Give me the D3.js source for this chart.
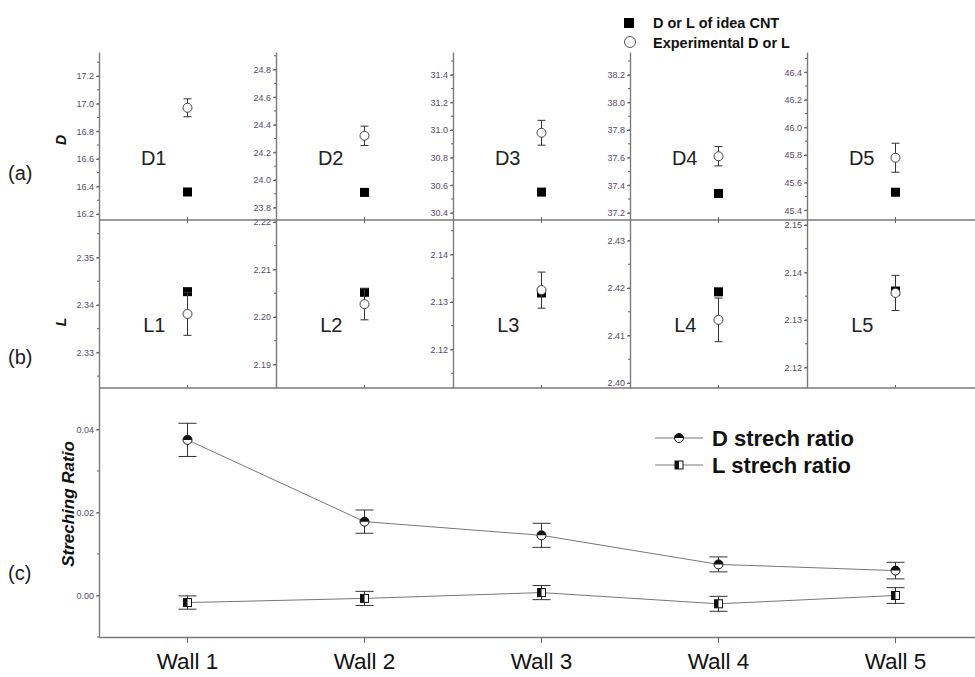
<!DOCTYPE html>
<html><head><meta charset="utf-8">
<script src="https://cdn.jsdelivr.net/npm/d3@7"></script>
<style>body{margin:0;background:#fff}svg{display:block}</style>
</head><body>
<svg id="chart" width="975" height="677"></svg>
<script>
// ---------------- data ----------------
const walls = ["Wall 1","Wall 2","Wall 3","Wall 4","Wall 5"];
const dLabels = ["D1","D2","D3","D4","D5"];
const lLabels = ["L1","L2","L3","L4","L5"];
// (a) diameter D
const dIdeal   = [16.36, 23.91, 30.55, 37.34, 45.53];
const dExp     = [16.97, 24.32, 30.98, 37.61, 45.78];
const dExpErr  = [0.065, 0.07, 0.09, 0.07, 0.105];
const dDomains = [[16.157,17.374],[23.710,24.927],[30.348,31.565],[37.148,38.365],[45.329,46.546]];
const dTicks   = [[16.2,16.4,16.6,16.8,17.0,17.2],[23.8,24.0,24.2,24.4,24.6,24.8],[30.4,30.6,30.8,31.0,31.2,31.4],[37.2,37.4,37.6,37.8,38.0,38.2],[45.4,45.6,45.8,46.0,46.2,46.4]];
// (b) length L
const lIdeal   = [2.3428, 2.2052, 2.1319, 2.4192, 2.1361];
const lExp     = [2.3381, 2.2027, 2.1325, 2.4133, 2.1357];
const lExpErr  = [0.0045, 0.0033, 0.0038, 0.0046, 0.0037];
const lDomains = [[2.3225,2.3579],[2.18505,2.22042],[2.11189,2.14726],[2.39895,2.43432],[2.11568,2.15105]];
const lTicks   = [[2.33,2.34,2.35],[2.19,2.20,2.21,2.22],[2.12,2.13,2.14],[2.40,2.41,2.42,2.43],[2.12,2.13,2.14,2.15]];
// (c) stretching ratio
const dRatio    = [0.0375, 0.0178, 0.0145, 0.0075, 0.0060];
const dRatioErr = [0.0040, 0.0028, 0.0029, 0.0018, 0.0020];
const lRatio    = [-0.0017, -0.0007, 0.0007, -0.0020, 0.0000];
const lRatioErr = [0.0016, 0.0017, 0.0017, 0.0018, 0.0019];
const ratioDomain = [-0.01, 0.05];
const ratioTicks  = [0.00, 0.02, 0.04];
const legendTop = ["D or L of idea CNT","Experimental D or L"];
const legendC   = ["D strech ratio","L strech ratio"];
const panelTags = ["(a)","(b)","(c)"];

// ---------------- layout ----------------
const W = 975, X0 = 99, STEP = 177;
const yA = [220, 52], yB = [388, 220], yCr = [637, 388];
const FONT = "'Liberation Sans', Arial, sans-serif";
const svg = d3.select("#chart").style("font-family", FONT);
svg.append("rect").attr("width", W).attr("height", 677).attr("fill", "#fff");

const x = d3.scaleBand().domain(walls).range([X0, X0 + walls.length * STEP]).padding(0);
const cx = w => x(w) + x.bandwidth() / 2;

function styleAxis(g, fs) {
  g.select(".domain").attr("stroke", "#7a7a7a").attr("stroke-width", 1.4);
  g.selectAll(".tick line").attr("stroke", "#666");
  g.selectAll(".tick text").attr("fill", "#5a4a6a").attr("font-size", fs).attr("font-family", FONT);
}

function minorTicks(g, scale, step, len) {
  const [a, b] = scale.domain();
  const vals = d3.range(Math.ceil(a / step) * step, b, step);
  g.selectAll(null).data(vals).join("line")
    .attr("x1", -len).attr("x2", 0)
    .attr("y1", d => scale(d)).attr("y2", d => scale(d))
    .attr("stroke", "#666");
}

const plot = svg.append("g");

walls.forEach((w, i) => {
  const ax = X0 + i * STEP;
  const px = cx(w);
  // ----- panel (a)
  const yd = d3.scaleLinear().domain(dDomains[i]).range(yA);
  const ga = plot.append("g").attr("transform", `translate(${ax},0)`);
  ga.call(d3.axisLeft(yd).tickValues(dTicks[i]).tickSize(3).tickSizeOuter(0).tickPadding(2).tickFormat(d3.format(".1f")));
  styleAxis(ga, 9);
  minorTicks(ga, yd, 0.1, 2);
  // ----- panel (b)
  const yl = d3.scaleLinear().domain(lDomains[i]).range(yB);
  const gb = plot.append("g").attr("transform", `translate(${ax},0)`);
  gb.call(d3.axisLeft(yl).tickValues(lTicks[i]).tickSize(3).tickSizeOuter(0).tickPadding(2).tickFormat(d3.format(".2f")));
  styleAxis(gb, 9);
  minorTicks(gb, yl, 0.005, 2);

  // x ticks on the separator lines
  [[220, -3], [220, 3], [388, -3]].forEach(([yy, dd]) => {
    plot.append("line").attr("x1", px).attr("x2", px).attr("y1", yy).attr("y2", yy + dd).attr("stroke", "#666");
  });

  // markers (a)
  plot.append("rect").attr("x", px - 4.5).attr("y", yd(dIdeal[i]) - 4.5).attr("width", 9).attr("height", 9).attr("fill", "#000");
  const ea = plot.append("g").attr("stroke", "#333").attr("stroke-width", 1);
  ea.append("line").attr("x1", px).attr("x2", px).attr("y1", yd(dExp[i] - dExpErr[i])).attr("y2", yd(dExp[i] + dExpErr[i]));
  [dExp[i] - dExpErr[i], dExp[i] + dExpErr[i]].forEach(v =>
    ea.append("line").attr("x1", px - 4).attr("x2", px + 4).attr("y1", yd(v)).attr("y2", yd(v)));
  plot.append("circle").attr("cx", px).attr("cy", yd(dExp[i])).attr("r", 4.5).attr("fill", "#fff").attr("stroke", "#444");

  // markers (b)
  plot.append("rect").attr("x", px - 4.5).attr("y", yl(lIdeal[i]) - 4.5).attr("width", 9).attr("height", 9).attr("fill", "#000");
  const eb = plot.append("g").attr("stroke", "#333").attr("stroke-width", 1);
  eb.append("line").attr("x1", px).attr("x2", px).attr("y1", yl(lExp[i] - lExpErr[i])).attr("y2", yl(lExp[i] + lExpErr[i]));
  [lExp[i] - lExpErr[i], lExp[i] + lExpErr[i]].forEach(v =>
    eb.append("line").attr("x1", px - 4).attr("x2", px + 4).attr("y1", yl(v)).attr("y2", yl(v)));
  plot.append("circle").attr("cx", px).attr("cy", yl(lExp[i])).attr("r", 4.5).attr("fill", "#fff").attr("stroke", "#444");

  // panel labels
  plot.append("text").attr("x", px - 21).attr("y", 165).attr("text-anchor", "end")
    .attr("font-size", 20).attr("fill", "#222").text(dLabels[i]);
  plot.append("text").attr("x", px - 22).attr("y", 332).attr("text-anchor", "end")
    .attr("font-size", 20).attr("fill", "#222").text(lLabels[i]);
});

// separator lines
[220, 388].forEach(yy => plot.append("line").attr("x1", X0).attr("x2", W).attr("y1", yy).attr("y2", yy)
  .attr("stroke", "#7a7a7a").attr("stroke-width", 1.4));

// ---------------- panel (c) ----------------
const yc = d3.scaleLinear().domain(ratioDomain).range(yCr);
const gcy = plot.append("g").attr("transform", `translate(${X0},0)`);
gcy.call(d3.axisLeft(yc).tickValues(ratioTicks).tickSize(3).tickSizeOuter(0).tickPadding(2).tickFormat(d3.format(".2f")));
styleAxis(gcy, 9);
minorTicks(gcy, yc, 0.01, 2);
const gcx = plot.append("g").attr("transform", `translate(0,${yCr[0]})`);
gcx.call(d3.axisBottom(x).tickSize(6).tickSizeOuter(0).tickPadding(10));
styleAxis(gcx, 22.5);
gcx.selectAll(".tick text").attr("fill", "#111");

const lineGen = d3.line().x((d, i) => cx(walls[i])).y(d => yc(d));
plot.append("path").datum(dRatio).attr("d", lineGen).attr("fill", "none").attr("stroke", "#777").attr("stroke-width", 1);
plot.append("path").datum(lRatio).attr("d", lineGen).attr("fill", "none").attr("stroke", "#777").attr("stroke-width", 1);

function errBars(vals, errs) {
  const g = plot.append("g").attr("stroke", "#333").attr("stroke-width", 1);
  vals.forEach((v, i) => {
    const px = cx(walls[i]);
    g.append("line").attr("x1", px).attr("x2", px).attr("y1", yc(v - errs[i])).attr("y2", yc(v + errs[i]));
    [v - errs[i], v + errs[i]].forEach(e =>
      g.append("line").attr("x1", px - 9).attr("x2", px + 9).attr("y1", yc(e)).attr("y2", yc(e)));
  });
}
errBars(dRatio, dRatioErr);
errBars(lRatio, lRatioErr);

function halfCircle(g, px, py, r) {
  g.append("circle").attr("cx", px).attr("cy", py).attr("r", r).attr("fill", "#fff").attr("stroke", "#111").attr("stroke-width", 1);
  g.append("path").attr("d", `M${px - r},${py}A${r},${r} 0 0 1 ${px + r},${py}Z`).attr("fill", "#111");
}
function halfSquare(g, px, py, s) {
  g.append("rect").attr("x", px - s / 2).attr("y", py - s / 2).attr("width", s).attr("height", s).attr("fill", "#fff").attr("stroke", "#111");
  g.append("rect").attr("x", px - s / 2).attr("y", py - s / 2).attr("width", s / 2).attr("height", s).attr("fill", "#111");
}
dRatio.forEach((v, i) => halfCircle(plot, cx(walls[i]), yc(v), 4.5));
lRatio.forEach((v, i) => halfSquare(plot, cx(walls[i]), yc(v), 8));

// legend (c)
legendC.forEach((t, k) => {
  const ly = 438 + k * 27;
  plot.append("line").attr("x1", 655).attr("x2", 703).attr("y1", ly).attr("y2", ly).attr("stroke", "#777");
  if (k === 0) halfCircle(plot, 679, ly, 4.5); else halfSquare(plot, 679, ly, 8);
  plot.append("text").attr("x", 712).attr("y", ly + 8).attr("font-size", 22).attr("font-weight", "bold")
    .attr("fill", "#111").text(t);
});

// top legend
plot.append("rect").attr("x", 624).attr("y", 18).attr("width", 10).attr("height", 10).attr("fill", "#000");
plot.append("circle").attr("cx", 630).attr("cy", 42).attr("r", 5.5).attr("fill", "#fff").attr("stroke", "#555");
legendTop.forEach((t, k) => plot.append("text").attr("x", 653).attr("y", 28 + k * 19.5)
  .attr("font-size", 14.5).attr("font-weight", "bold").attr("fill", "#111").text(t));

// axis titles
[["D", 66, 140, 14], ["L", 66, 322, 14], ["Streching Ratio", 74, 504, 17]].forEach(([t, tx, ty, fs]) =>
  plot.append("text").attr("transform", `translate(${tx},${ty}) rotate(-90)`).attr("text-anchor", "middle")
    .attr("font-size", fs).attr("font-weight", "bold").attr("font-style", "italic").attr("fill", "#111").text(t));

// panel tags
panelTags.forEach((t, k) => plot.append("text").attr("x", 8).attr("y", [180, 364, 580][k])
  .attr("font-size", 20).attr("fill", "#222").text(t));
</script>
</body></html>
